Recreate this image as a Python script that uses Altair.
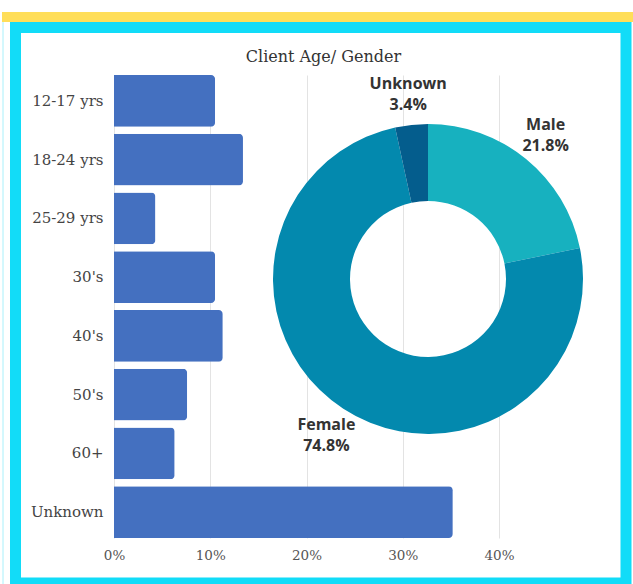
import altair as alt
import pandas as pd

# ---- data ----
age_groups = ["12-17 yrs", "18-24 yrs", "25-29 yrs", "30's", "40's", "50's", "60+", "Unknown"]
age_share = [0.105, 0.134, 0.043, 0.105, 0.113, 0.076, 0.063, 0.352]
x_ticks = [0, 0.1, 0.2, 0.3, 0.4]

genders = ["Male", "Female", "Unknown"]
gender_share = [0.218, 0.748, 0.034]
gender_pct_text = ["21.8%", "74.8%", "3.4%"]
gender_colors = ["#17B1BF", "#0389AE", "#045D8D"]

age_df = pd.DataFrame({"age": age_groups, "share": age_share})
g_df = pd.DataFrame({
    "gender": genders,
    "share": gender_share,
    "rank": list(range(len(genders))),
    "label": [f"{g}\n{p}" for g, p in zip(genders, gender_pct_text)],
})
one = pd.DataFrame({"a": [0]})

SERIF = "DejaVu Serif"
CX, CY = 314, 204  # donut centre inside the plot area

# ---- decorations ----
yellow = alt.Chart(one).mark_rect(color="#FFDE59").encode(
    x=alt.value(-112), x2=alt.value(519), y=alt.value(-63), y2=alt.value(-53)
)
frame = alt.Chart(one).mark_rect(fill="white", fillOpacity=0, stroke="#12DCF8", strokeWidth=11).encode(
    x=alt.value(-98.5), x2=alt.value(512), y=alt.value(-47.5), y2=alt.value(508)
)
edge = alt.Chart(one).mark_rule(color="#A8F0FB", strokeWidth=1).encode(
    x=alt.value(-111), y=alt.value(-53), y2=alt.value(509)
)

# ---- bars ----
bars = alt.Chart(age_df).mark_bar(color="#4470C0", cornerRadiusEnd=4).encode(
    x=alt.X(
        "share:Q",
        scale=alt.Scale(domain=[0, 0.4], nice=False),
        axis=alt.Axis(
            values=x_ticks, format=".0%", title=None, grid=True, domain=False, ticks=False,
            labelPadding=10, labelFlush=False, gridColor="#E3E3E3", labelFont=SERIF,
            labelFontSize=13.5, labelColor="#555555",
        ),
    ),
    y=alt.Y(
        "age:N",
        sort=age_groups,
        scale=alt.Scale(paddingInner=0.12, paddingOuter=0),
        axis=alt.Axis(
            title=None, domain=False, ticks=False, labelPadding=11, labelFont=SERIF,
            labelFontSize=15, labelColor="#444444",
        ),
    ),
)

# ---- donut ----
donut = alt.Chart(g_df).mark_arc(outerRadius=155, innerRadius=78).encode(
    theta=alt.Theta("share:Q", stack=True),
    color=alt.Color("gender:N", scale=alt.Scale(domain=genders, range=gender_colors), legend=None),
    order=alt.Order("rank:Q"),
    x=alt.value(CX),
    y=alt.value(CY),
)

labels = alt.Chart(g_df).mark_text(
    radius=186, lineBreak="\n", font="Open Sans", fontWeight="bold", fontSize=16,
    color="#333333", lineHeight=21, align="center", baseline="middle", dy=-10,
).encode(
    theta=alt.Theta("share:Q", stack=True),
    order=alt.Order("rank:Q"),
    text="label:N",
    x=alt.value(CX),
    y=alt.value(CY),
)

chart = alt.layer(yellow, frame, edge, bars, donut, labels).properties(
    width=385,
    height=463,
    title=alt.TitleParams(
        text="Client Age/ Gender", frame="group", anchor="middle", dx=17, offset=-69,
        baseline="bottom", font=SERIF, fontSize=16, fontWeight="normal", color="#333333",
    ),
    autosize=alt.AutoSizeParams(type="none"),
    padding={"left": 114, "top": 75, "right": 134, "bottom": 46},
    background="white",
).configure_view(stroke=None)

chart.save("out.html", embed_options={"renderer": "svg", "actions": False})
